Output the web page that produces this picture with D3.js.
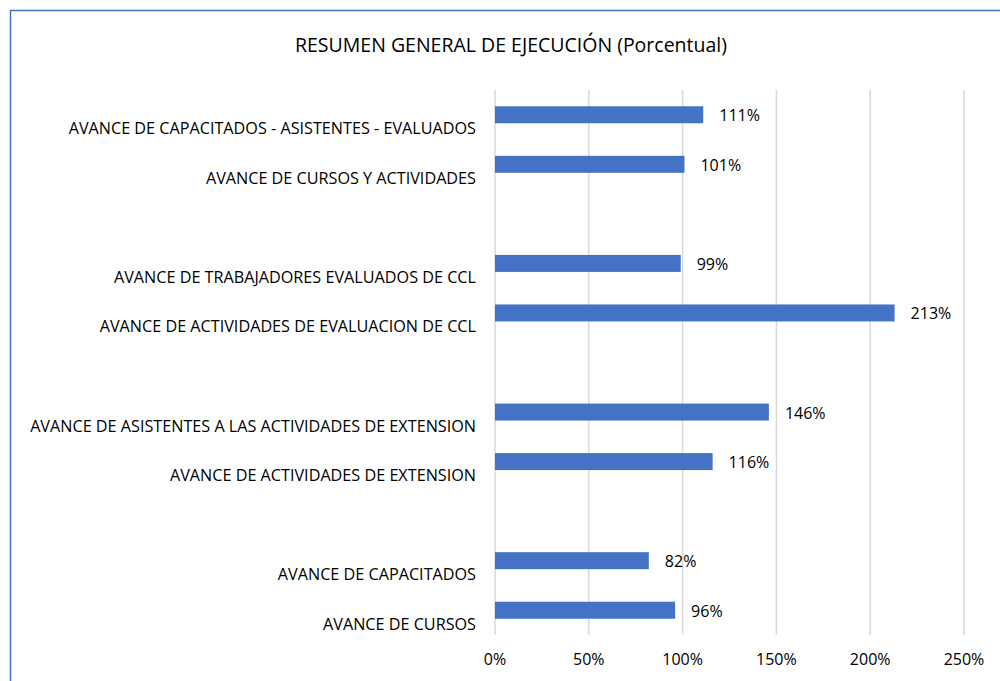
<!DOCTYPE html>
<html lang="es">
<head>
    <meta charset="UTF-8">
    <title>Resumen general de ejecución</title>
    <style>
        body { margin: 0; background: #fff; }
        text { font-family: "Open Sans", "Noto Sans", sans-serif; fill: #000; }
    </style>
</head>
<body>
    <script src="https://d3js.org/d3.v7.min.js"></script>
    <script>
        // Categories from top to bottom; empty slots are the gaps between groups
        let categories = [
            "AVANCE DE CAPACITADOS - ASISTENTES - EVALUADOS",
            "AVANCE DE CURSOS Y ACTIVIDADES",
            "",
            "AVANCE DE TRABAJADORES EVALUADOS DE CCL",
            "AVANCE DE ACTIVIDADES DE EVALUACION DE CCL",
            "",
            "AVANCE DE ASISTENTES A LAS ACTIVIDADES DE EXTENSION",
            "AVANCE DE ACTIVIDADES DE EXTENSION",
            "",
            "AVANCE DE CAPACITADOS",
            "AVANCE DE CURSOS"
        ];
        let values = [1.11, 1.01, null, 0.99, 2.13, null, 1.46, 1.16, null, 0.82, 0.96];
        let ticks = [0, 0.5, 1, 1.5, 2, 2.5];

        let width = 1000, height = 681;
        let margin = {top: 90, right: 36, bottom: 46, left: 495};

        let svg = d3.select('body')
            .append('svg')
            .attr('width', width)
            .attr('height', height);

        // frame
        svg.append('path')
            .attr('d', 'M10.5,' + height + 'V10.5H' + width)
            .attr('fill', 'none')
            .attr('stroke', '#4472C4')
            .attr('stroke-width', 1.5);

        svg.append('text')
            .attr('x', 511)
            .attr('y', 52)
            .attr('text-anchor', 'middle')
            .attr('font-size', '19.5px')
            .text('RESUMEN GENERAL DE EJECUCIÓN (Porcentual)');

        let x = d3.scaleLinear()
            .domain([0, 2.5])
            .range([margin.left, width - margin.right]);

        let y = d3.scaleBand()
            .domain(d3.range(categories.length))
            .range([margin.top, height - margin.bottom]);

        // gridlines
        svg.selectAll('.grid')
            .data(ticks)
            .enter()
            .append('line')
            .attr('x1', d => x(d))
            .attr('x2', d => x(d))
            .attr('y1', margin.top)
            .attr('y2', height - margin.bottom)
            .attr('stroke', '#d9d9d9')
            .attr('stroke-width', 1.5);

        // tick labels
        svg.selectAll('.tick')
            .data(ticks)
            .enter()
            .append('text')
            .attr('x', d => x(d))
            .attr('y', 665)
            .attr('text-anchor', 'middle')
            .attr('font-size', '16px')
            .text(d => d3.format('.0%')(d));

        let rows = categories.map((c, i) => ({i: i, name: c, value: values[i]}))
            .filter(d => d.value !== null);

        let barH = 17;
        svg.selectAll('.bar')
            .data(rows)
            .enter()
            .append('rect')
            .attr('x', x(0))
            .attr('y', d => y(d.i) + y.bandwidth() / 2 - barH / 2)
            .attr('width', d => x(d.value) - x(0))
            .attr('height', barH)
            .attr('fill', '#4472C4');

        // value labels
        svg.selectAll('.val')
            .data(rows)
            .enter()
            .append('text')
            .attr('x', d => x(d.value) + 16)
            .attr('y', d => y(d.i) + y.bandwidth() / 2 + 6.5)
            .attr('font-size', '16px')
            .text(d => d3.format('.0%')(d.value));

        // category labels
        svg.selectAll('.cat')
            .data(rows)
            .enter()
            .append('text')
            .attr('x', 476)
            .attr('y', d => y(d.i) + y.bandwidth() / 2 + 19.5)
            .attr('text-anchor', 'end')
            .attr('font-size', '16.2px')
            .text(d => d.name);
    </script>
</body>
</html>
